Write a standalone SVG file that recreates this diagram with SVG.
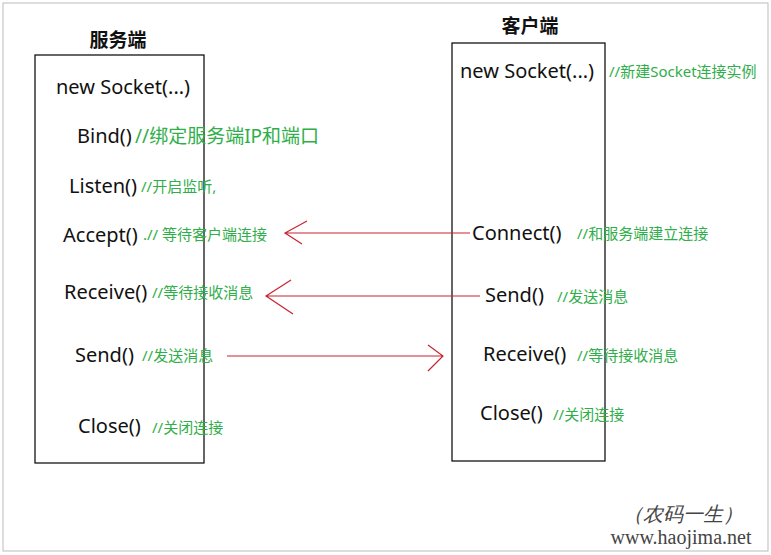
<svg xmlns="http://www.w3.org/2000/svg" width="771" height="555" viewBox="0 0 771 555">
<style>
.b{fill:#fff;stroke:#000;stroke-width:1.2}
.t{font-family:"Noto Sans","Noto Sans CJK SC",sans-serif;font-size:20px;fill:#111}
.h{font-family:"Noto Sans CJK SC",sans-serif;font-size:19px;font-weight:bold;fill:#111}
.c{font-family:"Noto Sans","Noto Sans CJK SC",sans-serif;font-size:15px;fill:#2fae4a}
.c2{font-family:"Noto Sans","Noto Sans CJK SC",sans-serif;font-size:19px;fill:#2fae4a}
.a{stroke:#c8232f;stroke-width:1.2;fill:none}
.w{font-family:"Liberation Serif",serif;fill:#444}
</style>
<rect width="771" height="555" fill="#fff"/>
<rect x="3" y="3" width="765" height="548" fill="none" stroke="#bbb"/>
<g id="server">
<text class="h" x="118" y="47" text-anchor="middle">服务端</text>
<rect class="b" x="35" y="55" width="169" height="408"/>
<text class="t" x="56" y="94">new Socket(...)</text>
<text class="t" x="77" y="143">Bind()</text><text class="c2" x="135" y="143">//绑定服务端IP和端口</text>
<text class="t" x="69" y="193">Listen()</text><text class="c" x="141" y="192">//开启监听,</text>
<text class="t" x="63" y="242">Accept()</text><text class="c" x="143" y="240">.// 等待客户端连接</text>
<text class="t" x="64" y="299">Receive()</text><text class="c" x="152" y="298">//等待接收消息</text>
<text class="t" x="75" y="362">Send()</text><text class="c" x="142" y="361">//发送消息</text>
<text class="t" x="78" y="433">Close()</text><text class="c" x="152" y="433">//关闭连接</text>
</g>
<g id="client">
<text class="h" x="530" y="33" text-anchor="middle">客户端</text>
<rect class="b" x="452" y="43" width="153" height="418"/>
<text class="t" x="460" y="78">new Socket(...)</text><text class="c" x="609" y="77">//新建Socket连接实例</text>
<text class="t" x="472" y="240">Connect()</text><text class="c" x="577" y="239">//和服务端建立连接</text>
<text class="t" x="485" y="302">Send()</text><text class="c" x="557" y="302">//发送消息</text>
<text class="t" x="483" y="361">Receive()</text><text class="c" x="577" y="361">//等待接收消息</text>
<text class="t" x="480" y="420">Close()</text><text class="c" x="553" y="420">//关闭连接</text>
</g>
<g id="connectors">
<path class="a" d="M470 233H285M307 221L285 233L302 244"/>
<path class="a" d="M480 296H266M291 280L266 296L293 314"/>
<path class="a" d="M227 356H443M428 345L443 356L428 371"/>
</g>
<g id="watermark">
<text class="w" x="683" y="521" text-anchor="middle" font-size="20" font-style="italic">（农码一生）</text>
<text class="w" x="681" y="544" text-anchor="middle" font-size="20">www.haojima.net</text>
</g>
</svg>
